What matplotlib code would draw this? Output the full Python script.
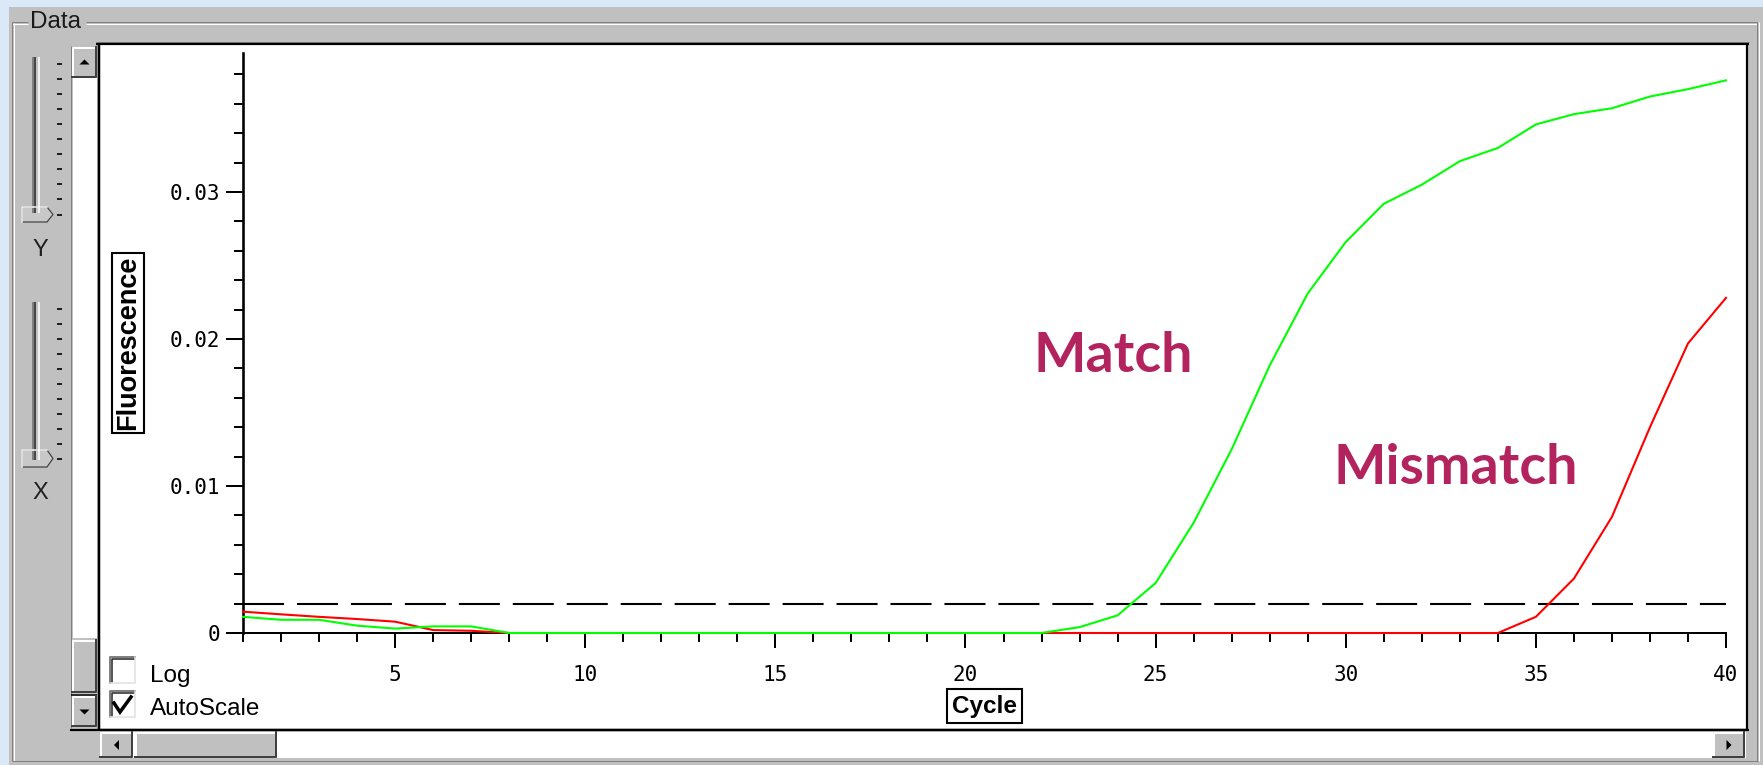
import numpy as np
import matplotlib
matplotlib.use("Agg")
import matplotlib.pyplot as plt
from matplotlib.patches import Rectangle, Polygon
from matplotlib.ticker import MultipleLocator, FixedLocator, FixedFormatter

# DATA ########################################################################

cycles = np.arange(1, 41)

match = [0.0011, 0.0009, 0.0009, 0.0005, 0.0003, 0.00045, 0.00045] + [0.0] * 15 + \
        [0.0004, 0.0012, 0.0034, 0.0075, 0.0125, 0.0182, 0.0231, 0.0266, 0.0292,
         0.0305, 0.0321, 0.0330, 0.0346, 0.0353, 0.0357, 0.0365, 0.0370, 0.0376]

mismatch = [0.00145, 0.00127, 0.0011, 0.00095, 0.00077, 0.0002, 0.00015] + [0.0] * 27 + \
           [0.0011, 0.0037, 0.0079, 0.0140, 0.0197, 0.0228]

threshold = 0.002

y_ticks = [0.0, 0.01, 0.02, 0.03]
y_tick_labels = ["0", "0.01", "0.02", "0.03"]

# LAYOUT (pixels) #############################################################

W, H = 1763, 765
PX = 0.72          # one pixel in points at dpi=100
GRAY = "#C0C0C0"
SHADOW = "#808080"
TEXT_FONT = ["Liberation Sans", "DejaVu Sans"]

fig = plt.figure(figsize=(W / 100, H / 100), dpi=100)
fig.patch.set_facecolor("#DAE8F8")

bg = fig.add_axes([0, 0, 1, 1])
bg.set_xlim(0, W)
bg.set_ylim(H, 0)
bg.axis("off")
bg.set_zorder(0)


def hline(x0, x1, y, color, lw=1.0):
    bg.plot([x0, x1], [y, y], color=color, lw=lw * PX, solid_capstyle="butt")


def vline(x, y0, y1, color, lw=1.0):
    bg.plot([x, x], [y0, y1], color=color, lw=lw * PX, solid_capstyle="butt")


def button(x0, y0, x1, y1):
    bg.add_patch(Rectangle((x0, y0), x1 - x0, y1 - y0, fc=GRAY, ec="none"))
    bg.plot([x0 + 1, x0 + 1, x1 - 1], [y1 - 1, y0 + 1, y0 + 1], color="white", lw=2 * PX)
    bg.plot([x0, x1 - 1, x1 - 1], [y1 - 1, y1 - 1, y0], color="#404040", lw=2 * PX)


def arrow(cx, cy, direction, size=5):
    if direction == "up":
        pts = [(cx - size, cy + size / 2), (cx + size, cy + size / 2), (cx, cy - size / 2)]
    elif direction == "down":
        pts = [(cx - size, cy - size / 2), (cx + size, cy - size / 2), (cx, cy + size / 2)]
    elif direction == "left":
        pts = [(cx + size / 2, cy - size), (cx + size / 2, cy + size), (cx - size / 2, cy)]
    else:
        pts = [(cx - size / 2, cy - size), (cx - size / 2, cy + size), (cx + size / 2, cy)]
    bg.add_patch(Polygon(pts, closed=True, fc="black", ec="none"))


# window panel
bg.add_patch(Rectangle((9, 7), W - 9, H - 7, fc=GRAY, ec="none"))

# "Data" group box (etched)
hline(12, 28, 22, SHADOW)
hline(12, 28, 23.5, "white")
hline(86, 1757, 22, SHADOW)
hline(86, 1757, 23.5, "white")
vline(12, 22, 761, SHADOW)
vline(13.5, 23, 761, "white")
vline(1757, 22, 761, SHADOW)
vline(1758.5, 22, 761, "white")
hline(12, 1758, 761, SHADOW)
bg.text(30, 22, "Data", fontsize=17.5, family=TEXT_FONT, color="#1a1a1a", va="center", ha="left")

# plot area
bg.add_patch(Rectangle((100, 45), 1646, 683, fc="white", ec="none"))
hline(96, 1749, 42, SHADOW)
hline(96, 1749, 44, "black", 2.2)
vline(98.5, 43, 731, "black", 2.5)
vline(1747, 43, 731, "black", 2.2)
hline(70, 1749, 729.5, "black", 2.2)

# vertical scrollbar
bg.add_patch(Rectangle((71, 46), 26, 682, fc=GRAY, ec="none"))
bg.add_patch(Rectangle((73, 78), 24, 560, fc="white", ec="none"))
vline(71, 46, 728, SHADOW)
button(72, 47, 97, 78)
arrow(84.5, 62, "up")
button(72, 640, 97, 693)
hline(71, 97, 694.5, "black", 1.5)
button(72, 696, 97, 727)
arrow(84.5, 712, "down")

# horizontal scrollbar
bg.add_patch(Rectangle((100, 732), 1646, 26, fc="white", ec="none"))
button(100, 732, 133, 758)
arrow(116.5, 745, "left")
button(135, 732, 277, 758)
button(1713, 732, 1745, 758)
arrow(1729, 745, "right")


def slider(y_top, y_bottom, thumb_top, thumb_bottom):
    bg.add_patch(Rectangle((33, y_top), 6, y_bottom - y_top, fc=GRAY, ec="none"))
    vline(33, y_top, y_bottom, SHADOW, 2)
    vline(35, y_top, y_bottom, "#202020", 1.5)
    vline(39, y_top, y_bottom, "white", 1.5)
    for ty in np.linspace(y_top + 7, thumb_top + (thumb_bottom - thumb_top) / 2, 11):
        hline(57, 62, ty, "#202020", 2)
    mid = (thumb_top + thumb_bottom) / 2
    pts = [(22, thumb_top), (47, thumb_top), (53, mid), (47, thumb_bottom), (22, thumb_bottom)]
    bg.add_patch(Polygon(pts, closed=True, fc="#C8C8C8", ec="#404040", lw=1.2 * PX))
    bg.plot([22, 22, 47], [thumb_bottom, thumb_top, thumb_top], color="white", lw=1.5 * PX)


slider(57, 213, 207, 222)
slider(302, 460, 450, 467)
bg.text(40, 250, "Y", fontsize=17, family=TEXT_FONT, color="#202020", ha="center", va="center")
bg.text(40, 493, "X", fontsize=17, family=TEXT_FONT, color="#202020", ha="center", va="center")

# check boxes
for top in (657, 691):
    bg.add_patch(Rectangle((110, top), 25, 26, fc="white", ec="none"))
    bg.plot([110, 110, 135], [top + 26, top, top], color=SHADOW, lw=2 * PX)
    bg.plot([111.5, 111.5, 134], [top + 25, top + 1.5, top + 1.5], color="#202020", lw=1.5 * PX)
    bg.plot([110, 135, 135], [top + 26, top + 26, top], color="#E0E0E0", lw=1.5 * PX)
bg.plot([114, 120, 131], [703, 712, 697], color="black", lw=3.5 * PX, solid_joinstyle="miter")
bg.text(150, 682, "Log", fontsize=17.5, family=TEXT_FONT, color="black", va="baseline")
bg.text(150, 715, "AutoScale", fontsize=17.5, family=TEXT_FONT, color="black", va="baseline")

# CHART #######################################################################

ax = fig.add_axes([243 / W, (H - 633) / H, (1726 - 243) / W, (633 - 53) / H])
ax.set_facecolor("none")
ax.set_zorder(1)

ax.axhline(threshold, color="black", lw=1.5, dashes=(19.7, 6.2), zorder=2)
ax.plot(cycles, mismatch, color="#FF0000", lw=1.5, zorder=3, clip_on=False)
ax.plot(cycles, match, color="#00FF00", lw=1.5, zorder=4, clip_on=False)

ax.set_xlim(1, 40)
ax.set_ylim(0, 0.03946)

for side in ("top", "right"):
    ax.spines[side].set_visible(False)
ax.spines["left"].set_linewidth(2.6 * PX)
ax.spines["bottom"].set_linewidth(2 * PX)

ax.xaxis.set_major_locator(MultipleLocator(5))
ax.xaxis.set_minor_locator(MultipleLocator(1))
ax.yaxis.set_major_locator(FixedLocator(y_ticks))
ax.yaxis.set_major_formatter(FixedFormatter(y_tick_labels))
ax.yaxis.set_minor_locator(MultipleLocator(0.002))

ax.tick_params(axis="x", which="major", length=15 * PX, width=2 * PX, pad=12, labelsize=15)
ax.tick_params(axis="x", which="minor", length=9 * PX, width=2 * PX)
ax.tick_params(axis="y", which="major", length=17 * PX, width=2 * PX, pad=4.3, labelsize=15)
ax.tick_params(axis="y", which="minor", length=9 * PX, width=2 * PX)
for lab in ax.get_xticklabels() + ax.get_yticklabels():
    lab.set_family("DejaVu Sans Mono")

ax.text(-0.0776, 0.5, "Fluorescence", transform=ax.transAxes, rotation=90, ha="center", va="center",
        fontsize=19.5, fontweight="bold", family=TEXT_FONT,
        bbox=dict(boxstyle="square,pad=0.12", fc="white", ec="black", lw=1.5))
ax.text(0.5, -0.1259, "Cycle", transform=ax.transAxes, ha="center", va="center",
        fontsize=17.5, fontweight="bold", family=TEXT_FONT,
        bbox=dict(boxstyle="square,pad=0.22", fc="white", ec="black", lw=1.5))

ax.text(21.79, 0.01776, "Match", color="#B3245F", fontsize=40, fontweight="bold",
        family=["Lato", "DejaVu Sans"], ha="left", va="baseline")
ax.text(29.68, 0.01014, "Mismatch", color="#B3245F", fontsize=40, fontweight="bold",
        family=["Lato", "DejaVu Sans"], ha="left", va="baseline")

fig.savefig("out.png", dpi=100, facecolor=fig.get_facecolor())
